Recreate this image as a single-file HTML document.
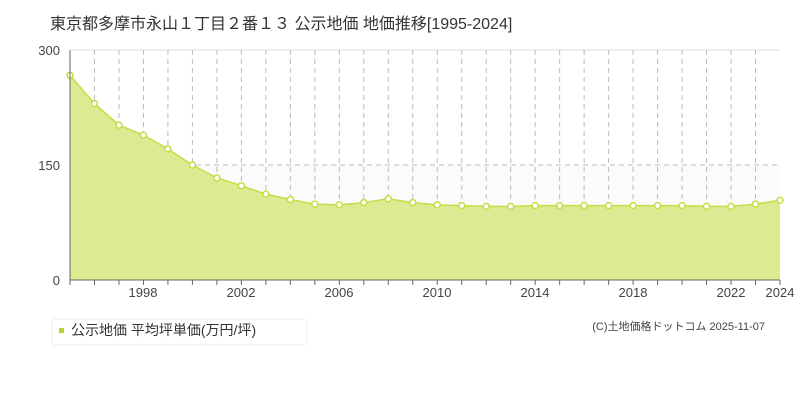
<!DOCTYPE html>
<html><head><meta charset="utf-8"><style>
body{margin:0;background:#fff;width:800px;height:400px;overflow:hidden;font-family:"Liberation Sans","Noto Sans CJK JP",sans-serif}
</style></head><body>
<svg width="800" height="400" xmlns="http://www.w3.org/2000/svg" font-family="'Liberation Sans','Noto Sans CJK JP',sans-serif">
<text x="50" y="29" font-size="16" fill="#333">東京都多摩市永山１丁目２番１３ 公示地価 地価推移[1995-2024]</text>
<rect x="70" y="165" width="710" height="115" fill="#fcfafc"/>
<line x1="70" y1="50" x2="780" y2="50" stroke="#ddd"/>
<line x1="70" y1="165" x2="780" y2="165" stroke="#bbb" stroke-dasharray="5,4"/>
<g id="vg" stroke="#bbb" stroke-dasharray="5,4"></g>
<path id="area" fill="#dbeb92"/>
<polyline id="ln" fill="none" stroke="#c4de45" stroke-width="1.5"/>
<g id="pts"></g>
<line x1="70" y1="50" x2="70" y2="280" stroke="#666"/>
<line x1="70" y1="280" x2="780" y2="280" stroke="#666"/>
<g id="tk" stroke="#666"></g>
<g font-size="13" fill="#444" text-anchor="end">
<text x="60" y="55">300</text><text x="60" y="170">150</text><text x="60" y="285">0</text>
</g>
<g font-size="13" fill="#444" text-anchor="middle">
<text x="143" y="297">1998</text><text x="241" y="297">2002</text><text x="339" y="297">2006</text><text x="437" y="297">2010</text><text x="535" y="297">2014</text><text x="633" y="297">2018</text><text x="731" y="297">2022</text><text x="780" y="297">2024</text>
</g>
<rect x="52" y="319" width="255" height="26" rx="4" fill="#fff" stroke="#eee"/>
<rect x="59" y="328" width="5" height="5" fill="#b5d334"/>
<text x="71" y="335" font-size="14" fill="#333">公示地価 平均坪単価(万円/坪)</text>
<text x="765" y="330" font-size="11" fill="#444" text-anchor="end">(C)土地価格ドットコム 2025-11-07</text>
</svg>
<script>
var v=[267,230,202,189,171,150,133,123,112,105,99,98,101,106,101,98,97,96,96,97,97,97,97,97,97,97,96,96,99,104];
var ns="http://www.w3.org/2000/svg",dx=710/29,pts=[];
var vg=document.getElementById('vg'),tk=document.getElementById('tk'),pg=document.getElementById('pts');
for(var i=0;i<30;i++){var x=70+i*dx,y=280-v[i]*230/300;pts.push(x.toFixed(1)+','+y.toFixed(1));
if(i>0&&i<29){var l=document.createElementNS(ns,'line');l.setAttribute('x1',x);l.setAttribute('x2',x);l.setAttribute('y1',50);l.setAttribute('y2',280);vg.appendChild(l);}
var t=document.createElementNS(ns,'line');t.setAttribute('x1',x);t.setAttribute('x2',x);t.setAttribute('y1',280);t.setAttribute('y2',285);tk.appendChild(t);
var c=document.createElementNS(ns,'circle');c.setAttribute('cx',x);c.setAttribute('cy',y);c.setAttribute('r',3);c.setAttribute('fill','#fff');c.setAttribute('stroke','#c4de45');c.setAttribute('stroke-width','1.5');pg.appendChild(c);}
document.getElementById('ln').setAttribute('points',pts.join(' '));
document.getElementById('area').setAttribute('d','M70,280 L'+pts.join(' L')+' L780,280 Z');
</script>
</body></html>
